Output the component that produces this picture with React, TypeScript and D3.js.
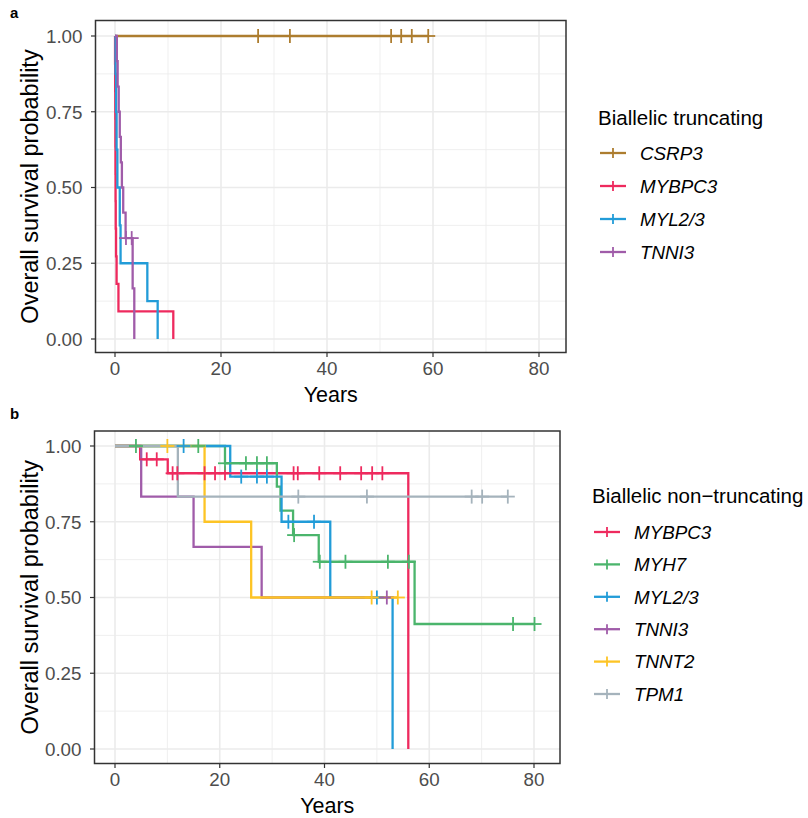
import React from 'react'
import * as d3 from 'd3'

// Kaplan-Meier steps: [time in years, survival after that time]
// panel a: biallelic truncating
const aCSRP3Steps: [number, number][] = [[0, 1]]
const aCSRP3Censor = [27, 33, 52.1, 54, 56, 59.1]
const aCSRP3End = 59.1

const aMYBPC3Steps: [number, number][] = [
  [0, 1], [0.01, 0.909], [0.03, 0.818], [0.05, 0.727], [0.07, 0.636], [0.09, 0.545],
  [0.11, 0.455], [0.14, 0.364], [0.2, 0.273], [0.3, 0.182], [0.65, 0.091], [11.0, 0],
]
const aMYBPC3Censor: number[] = []
const aMYBPC3End = 11.0

const aMYL23Steps: [number, number][] = [
  [0, 1], [0.1, 0.875], [0.2, 0.75], [0.3, 0.625], [0.45, 0.5], [0.9, 0.375],
  [1.05, 0.25], [6.1, 0.125], [8.05, 0],
]
const aMYL23Censor: number[] = []
const aMYL23End = 8.05

const aTNNI3Steps: [number, number][] = [
  [0, 1], [0.35, 0.917], [0.5, 0.833], [0.7, 0.75], [0.9, 0.667], [1.1, 0.583],
  [1.3, 0.5], [1.55, 0.417], [2.0, 0.333], [3.33, 0.167], [3.64, 0],
]
const aTNNI3Censor = [2.07, 3.15]
const aTNNI3End = 3.64

// panel b: biallelic non-truncating
const bMYBPC3Steps: [number, number][] = [[0, 1], [4.8, 0.956], [10.07, 0.91], [56.0, 0]]
const bMYBPC3Censor = [6.06, 7.97, 11.0, 11.9, 17.1, 19.1, 21.0, 34.1, 34.9, 39.0, 43.0, 47.0, 49.1, 51.05]
const bMYBPC3End = 56.0

const bMYH7Steps: [number, number][] = [
  [0, 1], [21.0, 0.943], [30.9, 0.866], [31.6, 0.787], [34.0, 0.706], [38.9, 0.618], [57.2, 0.4125],
]
const bMYH7Censor = [4.0, 15.9, 21.0, 25.0, 27.1, 29.0, 34.2, 39.1, 44.0, 52.1, 56.1, 76.0, 80.1]
const bMYH7End = 80.1

const bMYL23Steps: [number, number][] = [[0, 1], [22.0, 0.899], [31.8, 0.75], [41.1, 0.5], [53.0, 0]]
const bMYL23Censor = [13.1, 24.1, 27.1, 29.0, 33.1, 38.0, 50.0]
const bMYL23End = 53.0

const bTNNI3Steps: [number, number][] = [[0, 1], [5.0, 0.833], [15.0, 0.667], [28.0, 0.5]]
const bTNNI3Censor = [51.9]
const bTNNI3End = 51.9

const bTNNT2Steps: [number, number][] = [[0, 1], [17.1, 0.75], [26.0, 0.5]]
const bTNNT2Censor = [10.0, 49.0, 54.0]
const bTNNT2End = 54.0

const bTPM1Steps: [number, number][] = [[0, 1], [12.0, 0.833]]
const bTPM1Censor = [35.0, 48.1, 68.1, 70.1, 75.0]
const bTPM1End = 75.0

const xTicks = [0, 20, 40, 60, 80]
const xMinor = [10, 30, 50, 70]
const yTicks = [0, 0.25, 0.5, 0.75, 1]
const yMinor = [0.125, 0.375, 0.625, 0.875]

const COLORS: Record<string, string> = {
  CSRP3: '#AD7D2F',
  MYBPC3: '#EE2A5E',
  'MYL2/3': '#229CD8',
  TNNI3: '#A05CA9',
  MYH7: '#4BB56C',
  TNNT2: '#FDC425',
  TPM1: '#A5B3BC',
}

type Series = { name: string, steps: [number, number][], censor: number[], end: number }

const seriesA: Series[] = [
  { name: 'CSRP3', steps: aCSRP3Steps, censor: aCSRP3Censor, end: aCSRP3End },
  { name: 'MYBPC3', steps: aMYBPC3Steps, censor: aMYBPC3Censor, end: aMYBPC3End },
  { name: 'MYL2/3', steps: aMYL23Steps, censor: aMYL23Censor, end: aMYL23End },
  { name: 'TNNI3', steps: aTNNI3Steps, censor: aTNNI3Censor, end: aTNNI3End },
]
const seriesB: Series[] = [
  { name: 'MYBPC3', steps: bMYBPC3Steps, censor: bMYBPC3Censor, end: bMYBPC3End },
  { name: 'MYH7', steps: bMYH7Steps, censor: bMYH7Censor, end: bMYH7End },
  { name: 'MYL2/3', steps: bMYL23Steps, censor: bMYL23Censor, end: bMYL23End },
  { name: 'TNNI3', steps: bTNNI3Steps, censor: bTNNI3Censor, end: bTNNI3End },
  { name: 'TNNT2', steps: bTNNT2Steps, censor: bTNNT2Censor, end: bTNNT2End },
  { name: 'TPM1', steps: bTPM1Steps, censor: bTPM1Censor, end: bTPM1End },
]

const FONT = "'Liberation Sans', Arial, Helvetica, sans-serif"
const ARM = 7

function survAt(steps: [number, number][], t: number) {
  let s = 1
  for (const [st, sv] of steps) if (st <= t) s = sv
  return s
}

function Panel({ tag, tagY, box, xr, yr, series, legendTitle, lx, ltY, liY, lStep }: any) {
  const x = d3.scaleLinear().domain([0, 80]).range(xr)
  const y = d3.scaleLinear().domain([0, 1]).range(yr)
  const line = d3.line<[number, number]>().x(d => x(d[0])).y(d => y(d[1])).curve(d3.curveStepAfter)
  const [L, R, T, B] = box
  const midY = (T + B) / 2
  const midX = (L + R) / 2
  return (
    <g>
      <text x={10} y={tagY} fontSize={15} fontWeight="bold" fill="#000">{tag}</text>
      <rect x={L} y={T} width={R - L} height={B - T} fill="#fff" />
      {xMinor.map(v => <line key={'xm' + v} x1={x(v)} x2={x(v)} y1={T} y2={B} stroke="#EBEBEB" strokeWidth={0.8} />)}
      {yMinor.map(v => <line key={'ym' + v} x1={L} x2={R} y1={y(v)} y2={y(v)} stroke="#EBEBEB" strokeWidth={0.8} />)}
      {xTicks.map(v => <line key={'xg' + v} x1={x(v)} x2={x(v)} y1={T} y2={B} stroke="#EBEBEB" strokeWidth={1.6} />)}
      {yTicks.map(v => <line key={'yg' + v} x1={L} x2={R} y1={y(v)} y2={y(v)} stroke="#EBEBEB" strokeWidth={1.6} />)}
      {series.map((s: Series) => {
        const last = s.steps[s.steps.length - 1]
        const pts: [number, number][] = [...s.steps, [s.end, last[1]]]
        return <path key={'l' + s.name} d={line(pts) || ''} fill="none" stroke={COLORS[s.name]} strokeWidth={2.3} />
      })}
      {series.map((s: Series) => s.censor.map((c, i) => {
        const cx = x(c), cy = y(survAt(s.steps, c))
        return (
          <g key={'c' + s.name + i} stroke={COLORS[s.name]} strokeWidth={1.8}>
            <line x1={cx - ARM} x2={cx + ARM} y1={cy} y2={cy} />
            <line x1={cx} x2={cx} y1={cy - ARM} y2={cy + ARM} />
          </g>
        )
      }))}
      <rect x={L} y={T} width={R - L} height={B - T} fill="none" stroke="#333333" strokeWidth={1.5} />
      {yTicks.map(v => (
        <g key={'yt' + v}>
          <line x1={L - 4.5} x2={L} y1={y(v)} y2={y(v)} stroke="#333333" strokeWidth={1.2} />
          <text x={L - 13} y={y(v)} dy="0.36em" textAnchor="end" fontSize={18.8} fill="#4D4D4D">{v.toFixed(2)}</text>
        </g>
      ))}
      {xTicks.map(v => (
        <g key={'xt' + v}>
          <line x1={x(v)} x2={x(v)} y1={B} y2={B + 4.5} stroke="#333333" strokeWidth={1.2} />
          <text x={x(v)} y={B + 22.5} textAnchor="middle" fontSize={18.8} fill="#4D4D4D">{v}</text>
        </g>
      ))}
      <text x={midX} y={B + 49} textAnchor="middle" fontSize={21.5} fill="#000">Years</text>
      <text transform={`translate(38,${midY}) rotate(-90)`} textAnchor="middle" fontSize={23.5} fill="#000">Overall survival probability</text>
      <text x={lx} y={ltY} fontSize={20.5} fill="#000">{legendTitle}</text>
      {series.map((s: Series, i: number) => {
        const ky = liY + i * lStep
        return (
          <g key={'lg' + s.name}>
            <line x1={lx + 2} x2={lx + 28} y1={ky} y2={ky} stroke={COLORS[s.name]} strokeWidth={2.3} />
            <line x1={lx + 15} x2={lx + 15} y1={ky - 5} y2={ky + 5} stroke={COLORS[s.name]} strokeWidth={1.8} />
            <text x={lx + 42} y={ky} dy="0.36em" fontSize={18.8} fontStyle="italic" fill="#000">{s.name}</text>
          </g>
        )
      })}
    </g>
  )
}

export default function App() {
  return (
    <svg width={808} height={818} style={{ position: 'absolute', left: 0, top: 0 }} fontFamily={FONT}>
      <rect width={808} height={818} fill="#fff" />
      <Panel tag="a" tagY={18} box={[95.5, 566, 20.5, 352.5]} xr={[115, 539]} yr={[339, 36]}
        series={seriesA} legendTitle="Biallelic truncating" lx={598} ltY={125} liY={153} lStep={33} />
      <Panel tag="b" tagY={419} box={[94.5, 560, 431, 763.5]} xr={[115, 534]} yr={[749, 446]}
        series={seriesB} legendTitle="Biallelic non−truncating" lx={592} ltY={503} liY={532} lStep={32.4} />
    </svg>
  )
}
